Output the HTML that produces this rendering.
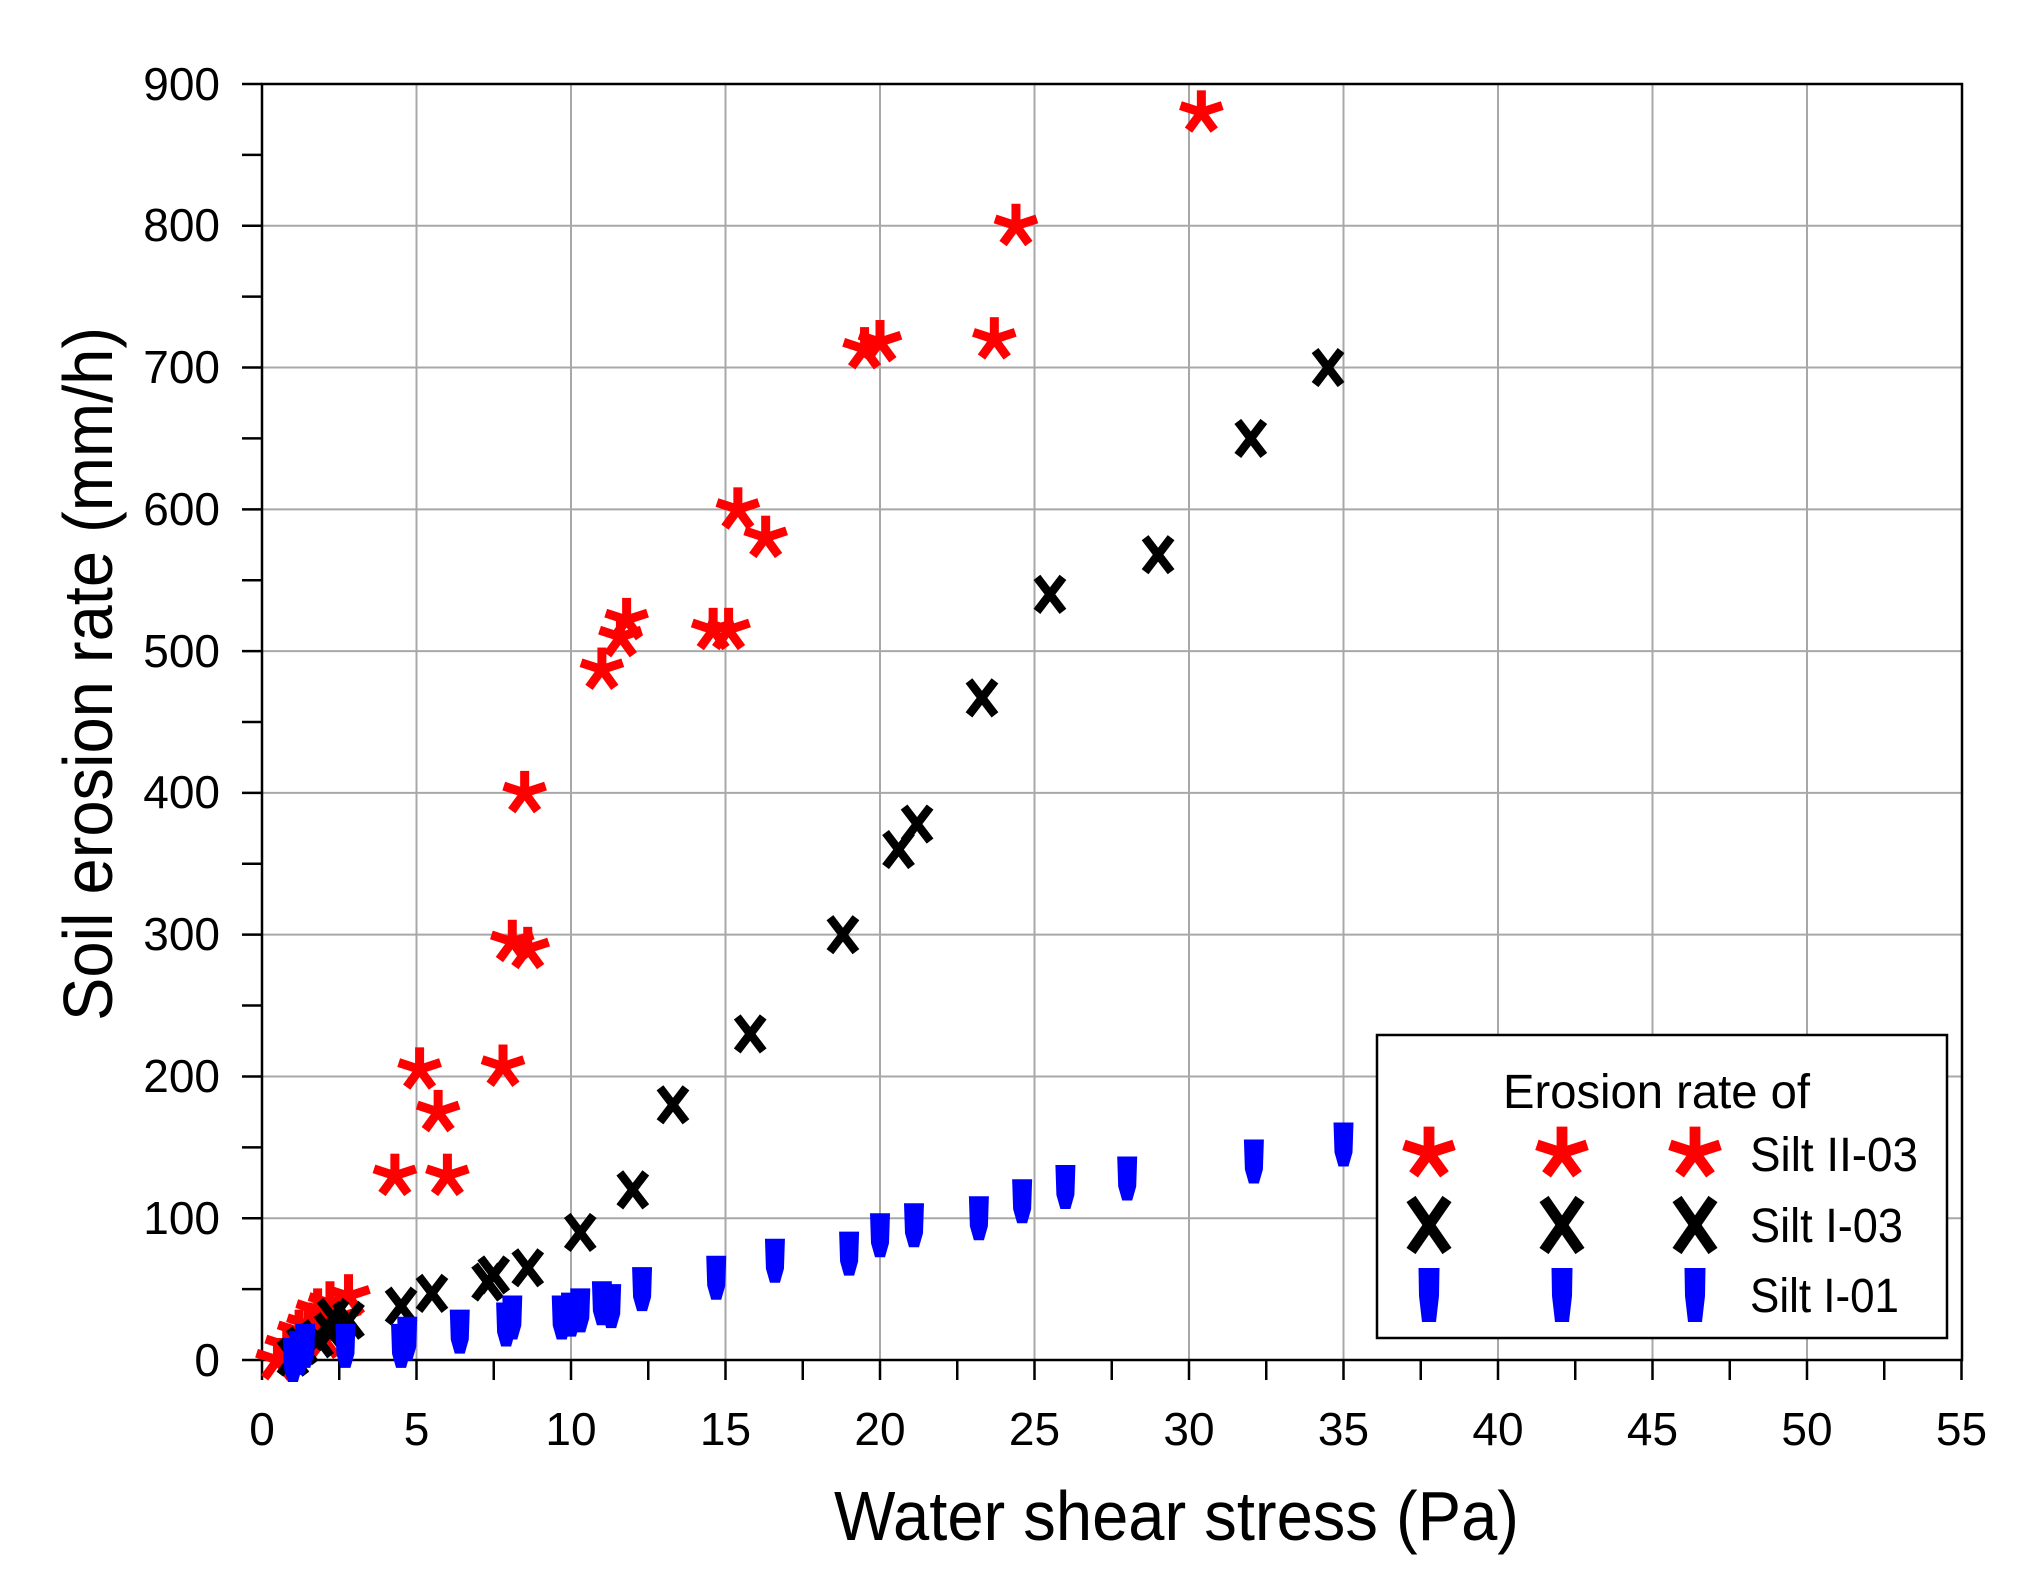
<!DOCTYPE html>
<html><head><meta charset="utf-8"><style>
html,body{margin:0;padding:0;background:#fff}
svg{display:block}
text{font-family:"Liberation Sans Narrow","Liberation Sans",sans-serif;fill:#000}
</style></head><body>
<svg id="s" width="2043" height="1574" viewBox="0 0 2043 1574" xmlns="http://www.w3.org/2000/svg">
<defs>
<g id="ast"><g stroke="#f00" stroke-width="9" stroke-linecap="butt">
<line x1="0" y1="0" x2="0" y2="-22"/><line x1="0" y1="0" x2="20.9" y2="-6.8"/><line x1="0" y1="0" x2="12.9" y2="17.8"/><line x1="0" y1="0" x2="-12.9" y2="17.8"/><line x1="0" y1="0" x2="-20.9" y2="-6.8"/></g></g>
<g id="ex"><g stroke="#000" stroke-width="8.5"><line x1="-13" y1="-17" x2="13" y2="17"/><line x1="13" y1="-17" x2="-13" y2="17"/></g></g>
<path id="bl" d="M-10,-22 L10,-22 L9,8 L5,22 L-5,22 L-9,8 Z" fill="#00f"/>
<g id="astL" transform="scale(1.2)"><use href="#ast"/></g>
<g id="exL"><g stroke="#000" stroke-width="11"><line x1="-18" y1="-26" x2="18" y2="26"/><line x1="18" y1="-26" x2="-18" y2="26"/></g></g>
<path id="blL" d="M-10.5,-27 L10.5,-27 L10,1 L7,27 L-7,27 L-10,1 Z" fill="#00f"/>
</defs>
<g id="grid" stroke="#a8a8a8" stroke-width="2"></g>
<g id="ticks" stroke="#000" stroke-width="2.5"></g>
<rect x="262" y="84" width="1700" height="1276" fill="none" stroke="#000" stroke-width="2.5"/>
<g font-size="46" text-anchor="end">
<text x="220" y="1376">0</text><text x="220" y="1234">100</text><text x="220" y="1092">200</text><text x="220" y="950">300</text><text x="220" y="808">400</text><text x="220" y="667">500</text><text x="220" y="525">600</text><text x="220" y="383">700</text><text x="220" y="241">800</text><text x="220" y="100">900</text>
</g>
<g font-size="46" text-anchor="middle">
<text x="262" y="1445">0</text><text x="416.5" y="1445">5</text><text x="571" y="1445">10</text><text x="725.5" y="1445">15</text><text x="880" y="1445">20</text><text x="1034.5" y="1445">25</text><text x="1189" y="1445">30</text><text x="1343.5" y="1445">35</text><text x="1498" y="1445">40</text><text x="1652.5" y="1445">45</text><text x="1807" y="1445">50</text><text x="1961.5" y="1445">55</text>
</g>
<text x="834" y="1540" font-size="70" textLength="685" lengthAdjust="spacingAndGlyphs">Water shear stress (Pa)</text>
<text transform="translate(112,1021) rotate(-90)" font-size="70" textLength="694" lengthAdjust="spacingAndGlyphs">Soil erosion rate (mm/h)</text>
<g id="pts"></g>
<rect x="1377" y="1035" width="570" height="303" fill="#fff" stroke="#000" stroke-width="2.5"/>
<text x="1503" y="1108" font-size="48" textLength="307" lengthAdjust="spacingAndGlyphs">Erosion rate of</text>
<use href="#astL" x="1429" y="1153"/><use href="#astL" x="1562" y="1153"/><use href="#astL" x="1695" y="1153"/>
<use href="#exL" x="1429" y="1225"/><use href="#exL" x="1562" y="1225"/><use href="#exL" x="1695" y="1225"/>
<use href="#blL" x="1429" y="1295"/><use href="#blL" x="1562" y="1295"/><use href="#blL" x="1695" y="1295"/>
<g font-size="48"><text x="1750" y="1171" textLength="168" lengthAdjust="spacingAndGlyphs">Silt II-03</text><text x="1750" y="1242" textLength="153" lengthAdjust="spacingAndGlyphs">Silt I-03</text><text x="1750" y="1312" textLength="149" lengthAdjust="spacingAndGlyphs">Silt I-01</text></g>
</svg>
<script>
var NS="http://www.w3.org/2000/svg";
function X(v){return 262+v*30.9}function Y(v){return 1360-v*1.4178}
function el(p,t,a){var e=document.createElementNS(NS,t);for(var k in a)e.setAttribute(k,a[k]);p.appendChild(e);return e}
var g=document.getElementById('grid'),tk=document.getElementById('ticks'),pts=document.getElementById('pts');
for(var i=5;i<55;i+=5)el(g,'line',{x1:X(i),x2:X(i),y1:84,y2:1360});
for(var j=100;j<900;j+=100)el(g,'line',{x1:262,x2:1962,y1:Y(j),y2:Y(j)});
for(var i=0;i<=55;i+=2.5)el(tk,'line',{x1:X(i),x2:X(i),y1:1360,y2:1380});
for(var j=0;j<=900;j+=50)el(tk,'line',{x1:242,x2:262,y1:Y(j),y2:Y(j)});
var R=[[0.5,0],[0.8,10],[1.2,20],[1.5,25],[1.8,35],[2.2,40],[2.5,30],[2.8,45],[2,15],[4.3,130],[5.1,205],[5.7,175],[6,130],[7.8,207],[8.1,295],[8.6,290],[8.5,400],[11,487],[11.6,510],[11.8,522],[14.6,515],[15.1,515],[15.4,600],[16.3,580],[19.5,713],[20,718],[23.7,720],[24.4,800],[30.4,880]];
var B=[[1,2],[1.3,10],[1.8,15],[2.2,20],[2.3,30],[2.8,28],[4.5,38],[5.5,47],[7.3,55],[7.5,60],[8.6,65],[10.3,90],[12,120],[13.3,180],[15.8,230],[18.8,300],[20.6,360],[21.2,378],[23.3,467],[25.5,540],[29,568],[32,650],[34.5,700]];
var U=[[1,0],[1.2,5],[1.4,10],[2.7,10],[4.5,10],[4.7,15],[6.4,20],[7.9,25],[8.1,30],[9.7,30],[10,32],[10.3,35],[11,40],[11.3,38],[12.3,50],[14.7,58],[16.6,70],[19,75],[20,88],[21.1,95],[23.2,100],[24.6,112],[26,122],[28,128],[32.1,140],[35,152]];
function put(a,id){a.forEach(function(p){el(pts,'use',{href:id,x:X(p[0]),y:Y(p[1])})})}
put(R,'#ast');put(B,'#ex');put(U,'#bl');
</script>
</body></html>
